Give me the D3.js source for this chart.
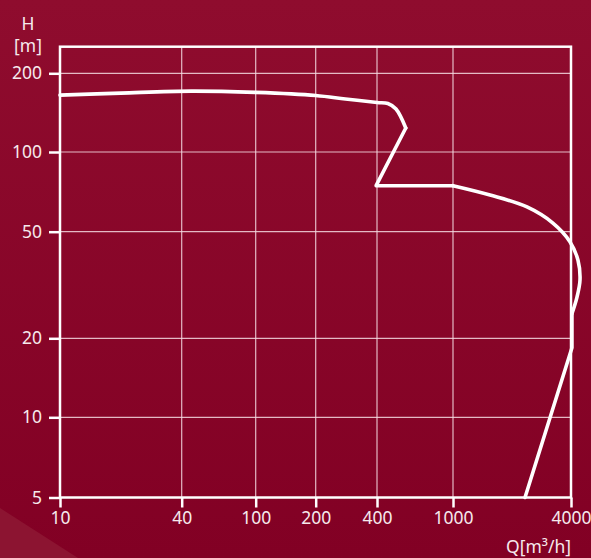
<!DOCTYPE html>
<html>
<head>
<meta charset="utf-8">
<script src="https://cdn.jsdelivr.net/npm/d3@7"></script>
<style>
  html, body { margin: 0; padding: 0; background: #88072a; }
  svg { display: block; }
  text { font-family: "Noto Sans", "Open Sans", sans-serif; fill: #f6e9ec; }
</style>
</head>
<body>
<svg id="chart" width="591" height="558"></svg>
<script>
// Pump characteristic: head H [m] against flow Q [m³/h], log–log
const xTicks = [10, 40, 100, 200, 400, 1000, 4000];
const yTicks = [5, 10, 20, 50, 100, 200];
const yTop = 252;

// Characteristic curve, split into smooth and straight pieces
const upperBranchQ = [10, 20, 45, 100, 200, 280, 400, 456, 503, 566];
const upperBranchH = [165, 168, 171, 169, 164.5, 159.5, 154.6, 153.3, 146, 123.5];

const stepQ = [566, 396, 1000];
const stepH = [123.5, 74.6, 74.6];

const falloffQ = [1000, 1545, 2385, 3234, 3950, 4343, 4446, 4292, 4045];
const falloffH = [74.6, 68.8, 62.0, 53.9, 45.9, 39.1, 33.0, 28.5, 24.7];

const tailQ = [4045, 4045, 2330];
const tailH = [24.7, 18.4, 5];

const svg = d3.select("#chart");
const W = 591, H = 558;
const FONT = 17.5;

// Background
const defs = svg.append("defs");
const grad = defs.append("linearGradient")
  .attr("id", "bg").attr("x1", 0).attr("y1", 0).attr("x2", 0).attr("y2", 1);
grad.append("stop").attr("offset", "0%").attr("stop-color", "#8f0c2e");
grad.append("stop").attr("offset", "100%").attr("stop-color", "#820024");
svg.append("rect").attr("width", W).attr("height", H).attr("fill", "url(#bg)");
svg.append("path")
  .attr("d", "M0,508 L78,558 L0,558 Z")
  .attr("fill", "#8c1431");

// Scales (piecewise log to follow the printed grid)
const x = d3.scaleLog()
  .domain(xTicks)
  .range([60, 181.7, 255.7, 315.7, 377, 453, 571]);
const y = d3.scaleLog()
  .domain([5, 10, 20, 50, 100, 200, yTop])
  .range([497.5, 417.3, 338.3, 231.7, 152, 73.3, 46.7]);

const x0 = x(xTicks[0]), x1 = x(xTicks[xTicks.length - 1]);
const y0 = y(yTicks[0]), y1 = y(yTop);

// Grid
const grid = svg.append("g")
  .attr("stroke", "#f4d9e0").attr("stroke-opacity", 0.85).attr("stroke-width", 1.2);
grid.selectAll(".gx").data(xTicks.slice(1, -1)).join("line")
  .attr("x1", d => x(d)).attr("x2", d => x(d))
  .attr("y1", y1).attr("y2", y0);
grid.selectAll(".gy").data(yTicks.slice(1)).join("line")
  .attr("x1", x0).attr("x2", x1)
  .attr("y1", d => y(d)).attr("y2", d => y(d));

// Frame
svg.append("rect")
  .attr("x", x0).attr("y", y1)
  .attr("width", x1 - x0).attr("height", y0 - y1)
  .attr("fill", "none").attr("stroke", "#ffffff").attr("stroke-width", 2.5);

// Axes
const xAxis = d3.axisBottom(x).tickValues(xTicks).tickFormat(d3.format("d"))
  .tickSize(10).tickSizeOuter(0).tickPadding(4);
const gx = svg.append("g").attr("transform", `translate(0,${y0})`).call(xAxis);
gx.select(".domain").remove();
gx.selectAll(".tick line").attr("stroke", "#ffffff").attr("stroke-width", 2.5);
gx.selectAll(".tick text")
  .attr("font-size", FONT).attr("fill", "#f6e9ec")
  .attr("font-family", "Noto Sans, sans-serif");

const yAxis = d3.axisLeft(y).tickValues(yTicks).tickFormat(d3.format("d"))
  .tickSize(11).tickSizeOuter(0).tickPadding(7);
const gy = svg.append("g").attr("transform", `translate(${x0},0)`).call(yAxis);
gy.select(".domain").remove();
gy.selectAll(".tick line").attr("stroke", "#ffffff").attr("stroke-width", 2.5);
gy.selectAll(".tick text")
  .attr("font-size", FONT).attr("fill", "#f6e9ec")
  .attr("font-family", "Noto Sans, sans-serif");

// Axis titles
svg.append("text").attr("x", 28).attr("y", 30)
  .attr("text-anchor", "middle").attr("font-size", FONT).text("H");
svg.append("text").attr("x", 28).attr("y", 52)
  .attr("text-anchor", "middle").attr("font-size", FONT).text("[m]");
svg.append("text").attr("x", 571).attr("y", 552.5)
  .attr("text-anchor", "end").attr("font-size", FONT).text("Q[m³/h]");

// Characteristic curve
const smooth = d3.line().x(d => x(d[0])).y(d => y(d[1])).curve(d3.curveCatmullRom.alpha(0.5));
const straight = d3.line().x(d => x(d[0])).y(d => y(d[1]));
const zip = (a, b) => a.map((v, i) => [v, b[i]]);

const pieces = [
  smooth(zip(upperBranchQ, upperBranchH)),
  straight(zip(stepQ, stepH)),
  smooth(zip(falloffQ, falloffH)),
  straight(zip(tailQ, tailH))
];
svg.append("g")
  .attr("fill", "none").attr("stroke", "#ffffff")
  .attr("stroke-width", 3.6).attr("stroke-linejoin", "round").attr("stroke-linecap", "round")
  .selectAll("path").data(pieces).join("path").attr("d", d => d);
</script>
</body>
</html>
